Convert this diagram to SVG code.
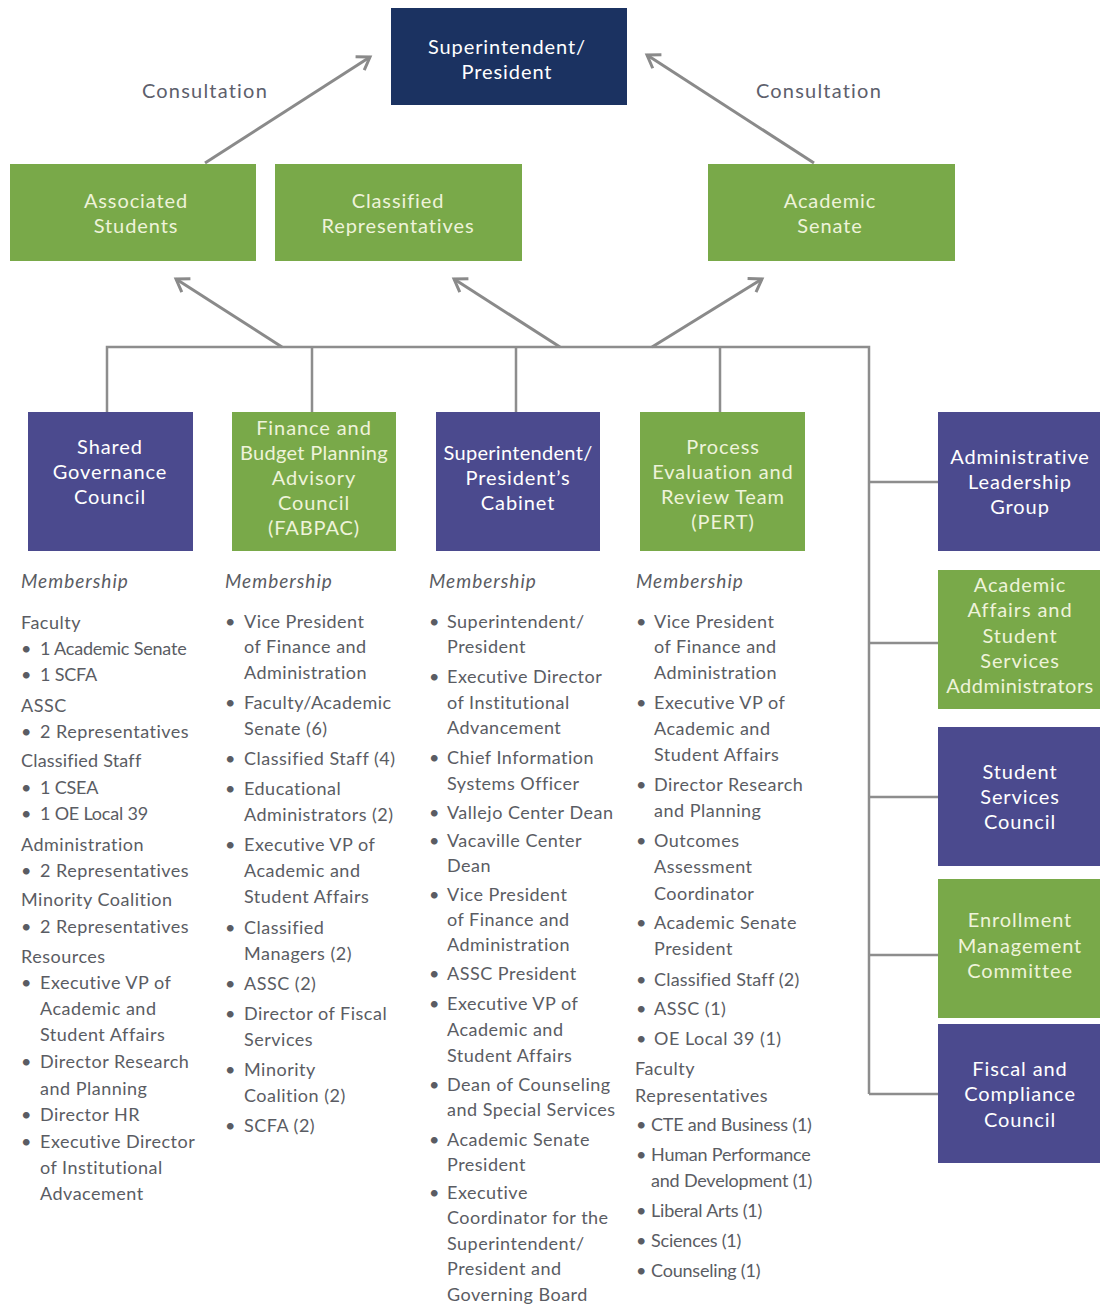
<svg xmlns="http://www.w3.org/2000/svg" width="1100" height="1306" viewBox="0 0 1100 1306">
<style>
.navy{fill:#1b3261}
.green{fill:#79a949}
.purple{fill:#4b4a8e}
.bl{font-family:Lato,"Open Sans",sans-serif;font-size:20px;letter-spacing:0.9px;fill:#ffffff;text-anchor:middle}
.gl{font-family:Lato,"Open Sans",sans-serif;font-size:20px;letter-spacing:0.9px;fill:#eef3da;text-anchor:middle}
.cons{font-family:Lato,"Open Sans",sans-serif;font-size:20px;letter-spacing:1.2px;fill:#5d606c;text-anchor:middle}
.mem{font-family:Lato,"Open Sans",sans-serif;font-size:19px;letter-spacing:1px;font-style:italic;fill:#5a5c63}
.li{font-family:Lato,"Open Sans",sans-serif;font-size:18px;letter-spacing:0.5px;fill:#5a5c63}
.tight{letter-spacing:-0.2px}
.wire{fill:none;stroke:#8d8d8d;stroke-width:2.5}
.arr{fill:none;stroke:#8a8a8a;stroke-width:3;marker-end:url(#ah)}
</style>
<defs>
<marker id="ah" markerUnits="userSpaceOnUse" markerWidth="24" markerHeight="24" refX="15" refY="9" orient="auto" viewBox="0 0 24 18">
<path d="M3,1 L15,9 L3,17" fill="none" stroke="#8a8a8a" stroke-width="3" stroke-linejoin="miter"/>
</marker>
</defs>
<rect width="1100" height="1306" fill="#ffffff"/>

<g id="connectors">
<line class="arr" x1="205" y1="163" x2="370" y2="57"/>
<line class="arr" x1="814" y1="163" x2="647" y2="55"/>
<line class="arr" x1="282" y1="347" x2="176" y2="279"/>
<line class="arr" x1="560" y1="347" x2="454" y2="279"/>
<line class="arr" x1="652" y1="347" x2="762" y2="279"/>
<path class="wire" d="M107,412 V347 H869 V1094"/>
<path class="wire" d="M312,347 V412 M516,347 V412 M720,347 V412"/>
<path class="wire" d="M869,482 H938 M869,643 H938 M869,797 H938 M869,955 H938 M869,1094 H938"/>
<text class="cons" x="205" y="98">Consultation</text>
<text class="cons" x="819" y="98">Consultation</text>
</g>

<g id="superintendent">
<rect class="navy" x="391" y="8" width="236" height="97"/>
<text class="bl" x="507" y="54">Superintendent/</text>
<text class="bl" x="507" y="79">President</text>
</g>
<g id="associated-students">
<rect class="green" x="10" y="164" width="246" height="97"/>
<text class="gl" x="136" y="208">Associated</text>
<text class="gl" x="136" y="233">Students</text>
</g>
<g id="classified-representatives">
<rect class="green" x="275" y="164" width="247" height="97"/>
<text class="gl" x="398" y="208">Classified</text>
<text class="gl" x="398" y="233">Representatives</text>
</g>
<g id="academic-senate">
<rect class="green" x="708" y="164" width="247" height="97"/>
<text class="gl" x="830" y="208">Academic</text>
<text class="gl" x="830" y="233">Senate</text>
</g>

<g id="shared-governance">
<rect class="purple" x="28" y="412" width="165" height="139"/>
<text class="bl" x="110" y="454">Shared</text>
<text class="bl" x="110" y="479">Governance</text>
<text class="bl" x="110" y="504">Council</text>
</g>
<g id="fabpac">
<rect class="green" x="232" y="412" width="164" height="139"/>
<text class="gl" x="314" y="435">Finance and</text>
<text class="gl" x="314" y="460" style="letter-spacing:0.3px">Budget Planning</text>
<text class="gl" x="314" y="485">Advisory</text>
<text class="gl" x="314" y="510">Council</text>
<text class="gl" x="314" y="535">(FABPAC)</text>
</g>
<g id="cabinet">
<rect class="purple" x="436" y="412" width="164" height="139"/>
<text class="bl" x="518" y="460" style="letter-spacing:0.3px">Superintendent/</text>
<text class="bl" x="518" y="485">President’s</text>
<text class="bl" x="518" y="510">Cabinet</text>
</g>
<g id="pert">
<rect class="green" x="640" y="412" width="165" height="139"/>
<text class="gl" x="723" y="454">Process</text>
<text class="gl" x="723" y="479">Evaluation and</text>
<text class="gl" x="723" y="504">Review Team</text>
<text class="gl" x="723" y="529">(PERT)</text>
</g>

<g id="admin-leadership">
<rect class="purple" x="938" y="412" width="162" height="139"/>
<text class="bl" x="1020" y="464">Administrative</text>
<text class="bl" x="1020" y="489">Leadership</text>
<text class="bl" x="1020" y="514">Group</text>
</g>
<g id="academic-affairs">
<rect class="green" x="938" y="570" width="162" height="139"/>
<text class="gl" x="1020" y="592">Academic</text>
<text class="gl" x="1020" y="617">Affairs and</text>
<text class="gl" x="1020" y="643">Student</text>
<text class="gl" x="1020" y="668">Services</text>
<text class="gl" x="1020" y="693" style="letter-spacing:0.5px">Addministrators</text>
</g>
<g id="student-services">
<rect class="purple" x="938" y="727" width="162" height="139"/>
<text class="bl" x="1020" y="779">Student</text>
<text class="bl" x="1020" y="804">Services</text>
<text class="bl" x="1020" y="829">Council</text>
</g>
<g id="enrollment">
<rect class="green" x="938" y="879" width="162" height="139"/>
<text class="gl" x="1020" y="927">Enrollment</text>
<text class="gl" x="1020" y="953">Management</text>
<text class="gl" x="1020" y="978">Committee</text>
</g>
<g id="fiscal">
<rect class="purple" x="938" y="1024" width="162" height="139"/>
<text class="bl" x="1020" y="1076">Fiscal and</text>
<text class="bl" x="1020" y="1101">Compliance</text>
<text class="bl" x="1020" y="1127">Council</text>
</g>

<g id="membership-sgc">
<text class="mem" x="21" y="588">Membership</text>
<text class="li" x="21" y="629">Faculty</text>
<text class="li" x="21" y="655">•<tspan x="40" class="tight">1 Academic Senate</tspan></text>
<text class="li" x="21" y="681">•<tspan x="40" class="tight">1 SCFA</tspan></text>
<text class="li" x="21" y="712">ASSC</text>
<text class="li" x="21" y="738">•<tspan x="40">2 Representatives</tspan></text>
<text class="li" x="21" y="767" style="letter-spacing:0.2px">Classified Staff</text>
<text class="li" x="21" y="794">•<tspan x="40" class="tight">1 CSEA</tspan></text>
<text class="li" x="21" y="820">•<tspan x="40" class="tight">1 OE Local 39</tspan></text>
<text class="li" x="21" y="851">Administration</text>
<text class="li" x="21" y="877">•<tspan x="40">2 Representatives</tspan></text>
<text class="li" x="21" y="906">Minority Coalition</text>
<text class="li" x="21" y="933">•<tspan x="40">2 Representatives</tspan></text>
<text class="li" x="21" y="963">Resources</text>
<text class="li" x="21" y="989">•<tspan x="40">Executive VP of</tspan></text>
<text class="li" x="40" y="1015">Academic and</text>
<text class="li" x="40" y="1041">Student Affairs</text>
<text class="li" x="21" y="1068">•<tspan x="40">Director Research</tspan></text>
<text class="li" x="40" y="1095">and Planning</text>
<text class="li" x="21" y="1121">•<tspan x="40">Director HR</tspan></text>
<text class="li" x="21" y="1148">•<tspan x="40">Executive Director</tspan></text>
<text class="li" x="40" y="1174">of Institutional</text>
<text class="li" x="40" y="1200">Advacement</text>
</g>

<g id="membership-fabpac">
<text class="mem" x="225" y="588">Membership</text>
<text class="li" x="225" y="628">•<tspan x="244">Vice President</tspan></text>
<text class="li" x="244" y="653">of Finance and</text>
<text class="li" x="244" y="679">Administration</text>
<text class="li" x="225" y="709">•<tspan x="244">Faculty/Academic</tspan></text>
<text class="li" x="244" y="735">Senate (6)</text>
<text class="li" x="225" y="765">•<tspan x="244">Classified Staff (4)</tspan></text>
<text class="li" x="225" y="795">•<tspan x="244">Educational</tspan></text>
<text class="li" x="244" y="821">Administrators (2)</text>
<text class="li" x="225" y="851">•<tspan x="244">Executive VP of</tspan></text>
<text class="li" x="244" y="877">Academic and</text>
<text class="li" x="244" y="903">Student Affairs</text>
<text class="li" x="225" y="934">•<tspan x="244">Classified</tspan></text>
<text class="li" x="244" y="960">Managers (2)</text>
<text class="li" x="225" y="990">•<tspan x="244">ASSC (2)</tspan></text>
<text class="li" x="225" y="1020">•<tspan x="244">Director of Fiscal</tspan></text>
<text class="li" x="244" y="1046">Services</text>
<text class="li" x="225" y="1076">•<tspan x="244">Minority</tspan></text>
<text class="li" x="244" y="1102">Coalition (2)</text>
<text class="li" x="225" y="1132">•<tspan x="244">SCFA (2)</tspan></text>
</g>

<g id="membership-cabinet">
<text class="mem" x="429" y="588">Membership</text>
<text class="li" x="429" y="628">•<tspan x="447">Superintendent/</tspan></text>
<text class="li" x="447" y="653">President</text>
<text class="li" x="429" y="683">•<tspan x="447">Executive Director</tspan></text>
<text class="li" x="447" y="709">of Institutional</text>
<text class="li" x="447" y="734">Advancement</text>
<text class="li" x="429" y="764">•<tspan x="447">Chief Information</tspan></text>
<text class="li" x="447" y="790">Systems Officer</text>
<text class="li" x="429" y="819">•<tspan x="447">Vallejo Center Dean</tspan></text>
<text class="li" x="429" y="847">•<tspan x="447">Vacaville Center</tspan></text>
<text class="li" x="447" y="872">Dean</text>
<text class="li" x="429" y="901">•<tspan x="447">Vice President</tspan></text>
<text class="li" x="447" y="926">of Finance and</text>
<text class="li" x="447" y="951">Administration</text>
<text class="li" x="429" y="980">•<tspan x="447">ASSC President</tspan></text>
<text class="li" x="429" y="1010">•<tspan x="447">Executive VP of</tspan></text>
<text class="li" x="447" y="1036">Academic and</text>
<text class="li" x="447" y="1062">Student Affairs</text>
<text class="li" x="429" y="1091">•<tspan x="447">Dean of Counseling</tspan></text>
<text class="li" x="447" y="1116">and Special Services</text>
<text class="li" x="429" y="1146">•<tspan x="447">Academic Senate</tspan></text>
<text class="li" x="447" y="1171">President</text>
<text class="li" x="429" y="1199">•<tspan x="447">Executive</tspan></text>
<text class="li" x="447" y="1224">Coordinator for the</text>
<text class="li" x="447" y="1250">Superintendent/</text>
<text class="li" x="447" y="1275">President and</text>
<text class="li" x="447" y="1301">Governing Board</text>
</g>

<g id="membership-pert">
<text class="mem" x="636" y="588">Membership</text>
<text class="li" x="636" y="628">•<tspan x="654">Vice President</tspan></text>
<text class="li" x="654" y="653">of Finance and</text>
<text class="li" x="654" y="679">Administration</text>
<text class="li" x="636" y="709">•<tspan x="654">Executive VP of</tspan></text>
<text class="li" x="654" y="735">Academic and</text>
<text class="li" x="654" y="761">Student Affairs</text>
<text class="li" x="636" y="791">•<tspan x="654">Director Research</tspan></text>
<text class="li" x="654" y="817">and Planning</text>
<text class="li" x="636" y="847">•<tspan x="654">Outcomes</tspan></text>
<text class="li" x="654" y="873">Assessment</text>
<text class="li" x="654" y="900">Coordinator</text>
<text class="li" x="636" y="929">•<tspan x="654">Academic Senate</tspan></text>
<text class="li" x="654" y="955">President</text>
<text class="li" x="636" y="986">•<tspan x="654" style="letter-spacing:0.2px">Classified Staff (2)</tspan></text>
<text class="li" x="636" y="1015">•<tspan x="654">ASSC (1)</tspan></text>
<text class="li" x="636" y="1045">•<tspan x="654">OE Local 39 (1)</tspan></text>
<text class="li" x="635" y="1075">Faculty</text>
<text class="li" x="635" y="1102">Representatives</text>
<text class="li" x="636" y="1131">•<tspan x="651" class="tight">CTE and Business (1)</tspan></text>
<text class="li" x="636" y="1161">•<tspan x="651" class="tight">Human Performance</tspan></text>
<text class="li tight" x="651" y="1187">and Development (1)</text>
<text class="li" x="636" y="1217">•<tspan x="651" class="tight">Liberal Arts (1)</tspan></text>
<text class="li" x="636" y="1247">•<tspan x="651" class="tight">Sciences (1)</tspan></text>
<text class="li" x="636" y="1277">•<tspan x="651" class="tight">Counseling (1)</tspan></text>
</g>
</svg>
